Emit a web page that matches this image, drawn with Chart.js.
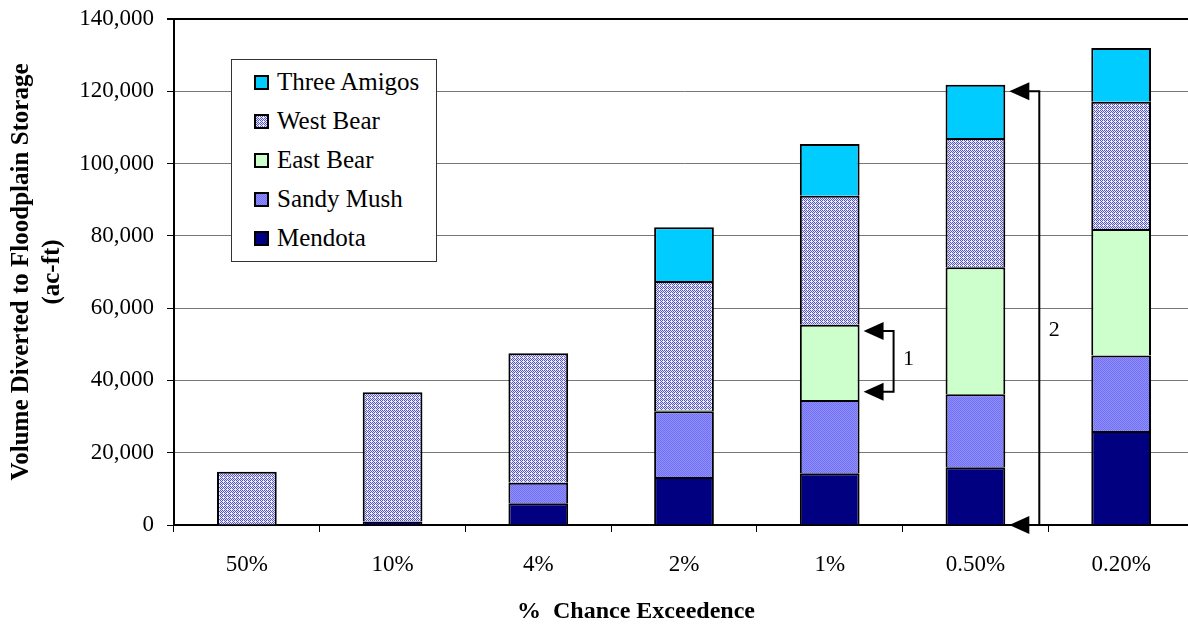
<!DOCTYPE html>
<html>
<head>
<meta charset="utf-8">
<script src="https://cdn.jsdelivr.net/npm/chart.js@4.4.0/dist/chart.umd.min.js"></script>
<style>
  html, body { margin: 0; padding: 0; background: #fff; overflow: hidden; }
  #wrap { position: relative; width: 1188px; height: 626px; overflow: hidden; }
  #chart { position: absolute; left: 0; top: 0; }
  #legend {
    position: absolute; left: 231px; top: 59px; width: 204px; height: 201px;
    border: 1px solid #333; background: #fff;
    font-family: "Liberation Serif", "Times New Roman", serif; font-size: 25px; color: #000;
  }
  .item { position: absolute; left: 22px; height: 30px; display: flex; align-items: center; white-space: nowrap; }
  .sw { width: 11px; height: 11px; border: 2px solid #000; margin-right: 8px; }
</style>
</head>
<body>
<div id="wrap">
  <canvas id="chart" width="1200" height="626"></canvas>
  <div id="legend"></div>
</div>
<script>
const CATEGORIES = ["50%", "10%", "4%", "2%", "1%", "0.50%", "0.20%"];

// stack order bottom -> top
const MENDOTA = [null, 1000, 6000, 13300, 14300, 16000, 26000];
const SANDY_MUSH = [null, null, 5700, 18200, 20300, 20200, 20900];
const EAST_BEAR = [null, null, null, 300, 20800, 35100, 35000];
const WEST_BEAR = [14700, 35700, 35800, 35700, 35700, 35800, 35200];
const THREE_AMIGOS = [null, null, null, 14900, 14300, 14700, 14900];

const Y_TICKS = [0, 20000, 40000, 60000, 80000, 100000, 120000, 140000];

// bracket annotations: category index, span in ac-ft, label
const BRACKETS = [
  { cat: 4, from: 36900, to: 53700, label: "1", labelAt: 45800 },
  { cat: 5, from: 0, to: 120000, label: "2", labelAt: 53800 },
];

const FONT = '"Liberation Serif", "Times New Roman", serif';

function makePattern(bg, fg, test) {
  const c = document.createElement("canvas");
  c.width = 4;
  c.height = 4;
  const g = c.getContext("2d");
  g.fillStyle = bg;
  g.fillRect(0, 0, 4, 4);
  g.fillStyle = fg;
  for (let yy = 0; yy < 4; yy++)
    for (let xx = 0; xx < 4; xx++) if (test(xx, yy)) g.fillRect(xx, yy, 1, 1);
  return c;
}

const westTile = makePattern("#EAEAFF", "#5656C6", (x, y) => (x + y) % 2 === 0 && !(x === 3 && y === 1));
const sandyTile = makePattern("#8E8EFF", "#7272F0", (x, y) => (x + y) % 2 === 0);
const tmpCtx = document.createElement("canvas").getContext("2d");
const westFill = tmpCtx.createPattern(westTile, "repeat");
const sandyFill = tmpCtx.createPattern(sandyTile, "repeat");

const series = [
  { label: "Mendota", data: MENDOTA, fill: "#000080", swatch: "#000080" },
  { label: "Sandy Mush", data: SANDY_MUSH, fill: sandyFill, swatch: "url(" + sandyTile.toDataURL() + ")" },
  { label: "East Bear", data: EAST_BEAR, fill: "#CCFFCC", swatch: "#CCFFCC" },
  { label: "West Bear", data: WEST_BEAR, fill: westFill, swatch: "url(" + westTile.toDataURL() + ")" },
  { label: "Three Amigos", data: THREE_AMIGOS, fill: "#00CCFF", swatch: "#00CCFF" },
];

// legend, top series first
const legendEl = document.getElementById("legend");
series.slice().reverse().forEach((s, i) => {
  const row = document.createElement("div");
  row.className = "item";
  row.style.top = (22 + i * 39 - 15) + "px";
  const sw = document.createElement("span");
  sw.className = "sw";
  sw.style.background = s.swatch;
  row.appendChild(sw);
  row.appendChild(document.createTextNode(s.label));
  legendEl.appendChild(row);
});

const extrasPlugin = {
  id: "extras",
  afterDraw(chart) {
    const { ctx, chartArea, scales } = chart;
    const y = scales.y;
    ctx.save();
    ctx.fillStyle = "#000";
    ctx.strokeStyle = "#000";
    ctx.lineWidth = 2;

    BRACKETS.forEach((b) => {
      const bar = chart.getDatasetMeta(3).data[b.cat];
      const tip = bar.x + bar.width / 2 + 4;
      const base = tip + 20;
      const vx = tip + 30;
      const yTop = y.getPixelForValue(b.to);
      const yBot = y.getPixelForValue(b.from);
      ctx.beginPath();
      ctx.moveTo(base - 2, yTop);
      ctx.lineTo(vx, yTop);
      ctx.lineTo(vx, yBot);
      ctx.lineTo(base - 2, yBot);
      ctx.stroke();
      [yTop, yBot].forEach((py) => {
        ctx.beginPath();
        ctx.moveTo(tip, py);
        ctx.lineTo(base, py - 9);
        ctx.lineTo(base, py + 9);
        ctx.closePath();
        ctx.fill();
      });
      ctx.font = "22px " + FONT;
      ctx.textAlign = "center";
      ctx.textBaseline = "middle";
      ctx.fillText(b.label, vx + 15, y.getPixelForValue(b.labelAt));
    });

    // axis titles
    ctx.font = "bold 24px " + FONT;
    ctx.textAlign = "center";
    ctx.textBaseline = "middle";
    ctx.fillText("%  Chance Exceedence", 636, 612);

    ctx.font = "bold 25px " + FONT;
    const cy = (chartArea.top + chartArea.bottom) / 2;
    ctx.translate(0, cy);
    ctx.rotate(-Math.PI / 2);
    ctx.fillText("Volume Diverted to Floodplain Storage", 0, 22);
    ctx.fillText("(ac-ft)", 0, 53);
    ctx.restore();
  },
};

new Chart(document.getElementById("chart"), {
  type: "bar",
  data: {
    labels: CATEGORIES,
    datasets: series.map((s) => ({
      label: s.label,
      data: s.data,
      backgroundColor: s.fill,
      borderColor: "#000",
      borderWidth: 2,
      barPercentage: 0.41,
      categoryPercentage: 1.0,
    })),
  },
  options: {
    responsive: false,
    animation: false,
    layout: { padding: { top: 19, right: 6, left: 0, bottom: 0 } },
    plugins: { legend: { display: false }, tooltip: { enabled: false } },
    scales: {
      x: {
        stacked: true,
        afterFit: (s) => { s.height = 101; },
        grid: { drawOnChartArea: false, drawTicks: true, tickLength: 7, color: "#000", offset: true },
        border: { color: "#000", width: 2 },
        ticks: { color: "#000", font: { family: FONT, size: 23 }, padding: 19, maxRotation: 0 },
      },
      y: {
        stacked: true,
        min: 0,
        max: 140000,
        afterFit: (s) => {
          s.width = 174;
          s.paddingTop = 0;
          s.paddingBottom = 0;
        },
        afterBuildTicks: (s) => { s.ticks = Y_TICKS.map((v) => ({ value: v })); },
        grid: {
          color: (c) => (c.tick && c.tick.value === 140000 ? "#000" : "#777"),
          lineWidth: (c) => (c.tick && c.tick.value === 140000 ? 2 : 1),
          tickLength: 7,
          tickColor: "#000",
        },
        border: { color: "#000", width: 2 },
        ticks: {
          color: "#000",
          font: { family: FONT, size: 23 },
          padding: 13,
          callback: (v) => v.toLocaleString("en-US"),
        },
      },
    },
  },
  plugins: [extrasPlugin],
});
</script>
</body>
</html>
